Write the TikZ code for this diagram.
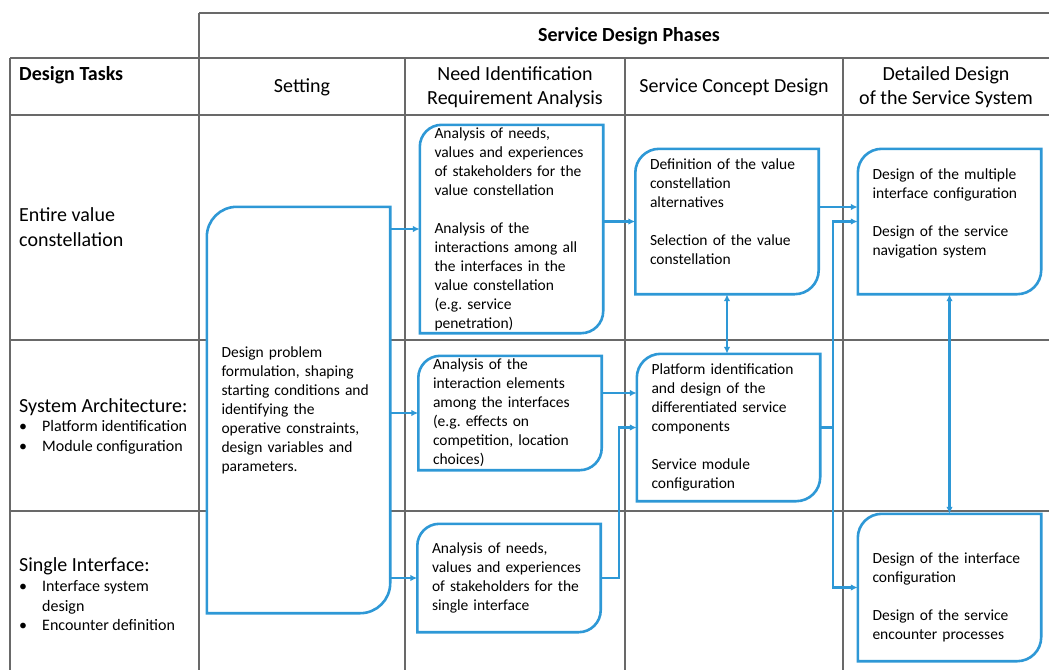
\documentclass[tikz,border=0pt]{standalone}
\usepackage{fontspec}
\setmainfont{Carlito}
\usetikzlibrary{arrows.meta}
\definecolor{phaseblue}{RGB}{46,152,214}
\definecolor{gridgray}{RGB}{105,105,105}
\newcommand{\boxfont}{\fontsize{15.5}{19}\selectfont\hyphenpenalty=10000}
\newcommand{\headfont}{\fontsize{20}{24}\selectfont}
\newcommand{\itemmark}{\makebox[23pt][l]{\textbullet}}

\begin{document}
\begin{tikzpicture}[x=1pt,y=-1pt,
  >={Latex[length=7pt,width=6.5pt]},
  grid/.style={draw=gridgray,line width=1.2pt},
  head/.style={font=\headfont,align=center,inner sep=0pt},
  task/.style={font=\fontsize{20}{25}\selectfont,align=left,anchor=west,inner sep=0pt},
  tasklist/.style={font=\fontsize{16}{19.5}\selectfont,align=left,anchor=west,inner sep=0pt},
  phase/.style={minimum width=183pt,minimum height=#1,text width=154pt,inner xsep=14.5pt,inner ysep=0pt,align=left,fill=white,font=\boxfont},
  outline/.style={draw=phaseblue,line width=2.6pt},
  flow/.style={draw=phaseblue,line width=2.2pt}]
 \useasboundingbox (0,0) rectangle (1049,670);
 % table
 \draw[grid] (199,13) -- (1049,13);
 \foreach \y in {58,115,340,511}
 	\draw[grid] (10,\y) -- (1049,\y);
 \draw[grid] (199,13) -- (199,670);
 \foreach \x in {10,405,625,843}
 	\draw[grid] (\x,58) -- (\x,670);
 % headings
 \node[font=\bfseries\headfont,inner sep=0pt] (phases) at (629,36) {Service Design Phases};
 \node[task,font=\bfseries\headfont] (tasks) at (19,75) {Design Tasks};
 \node[head] (colset) at (302,87) {Setting};
 \node[head] (colneed) at (515,87) {Need Identification\\Requirement Analysis};
 \node[head] (colconcept) at (734,87) {Service Concept Design};
 \node[head] (coldetail) at (946,87) {Detailed Design\\of the Service System};
 % design tasks
 \node[task] (rowentire) at (19,227.5) {Entire value\\constellation};
 \node[task] (rowarch) at (19,407) {System Architecture:};
 \node[tasklist] (rowarchlist) at (19,437.5) {\itemmark Platform identification\\\itemmark Module configuration};
 \node[task] (rowsingle) at (19,566) {Single Interface:};
 \node[tasklist] (rowsinglelist) at (19,606) {\itemmark Interface system\\\hspace*{23pt}design\\\itemmark Encounter definition};
 % phase boxes
 \node[phase=406pt] (setting) at (298.5,410) {Design problem\\formulation, shaping\\starting conditions and\\identifying the\\operative constraints,\\design variables and\\parameters.};
 \node[phase=208pt] (need1) at (511.5,229) {Analysis of needs,\\values and experiences\\of stakeholders for the\\value constellation\\[19pt]Analysis of the\\interactions among all\\the interfaces in the\\value constellation\\(e.g.\ service\\penetration)};
 \node[phase=114pt] (need2) at (510,413) {Analysis of the\\interaction elements\\among the interfaces\\(e.g.\ effects on\\competition, location\\choices)};
 \node[phase=108pt] (need3) at (509,578) {Analysis of needs,\\values and experiences\\of stakeholders for the\\single interface};
 \node[phase=145pt] (concept1) at (727,221.5) {Definition of the value\\constellation\\alternatives\\[19pt]Selection of the value\\constellation\\\mbox{}};
 \node[phase=147pt] (concept2) at (728.5,427.5) {Platform identification\\and design of the\\differentiated service\\components\\[19pt]Service module\\configuration};
 \node[phase=145pt] (detail1) at (949.5,221.5) {Design of the multiple\\interface configuration\\[19pt]Design of the service\\navigation system\\\mbox{}};
 \node[phase=147pt] (detail3) at (949.5,587.5) {\mbox{}\\[12pt]Design of the interface\\configuration\\[19pt]Design of the service\\encounter processes};
 \foreach \b/\r in {setting/30pt,need1/22pt,need2/22pt,need3/22pt,concept1/24pt,concept2/24pt,detail1/24pt,detail3/24pt}
 	\draw[outline] (\b.north east) [rounded corners=\r] -- (\b.south east) [sharp corners] -- (\b.south west) [rounded corners=\r] -- (\b.north west) [sharp corners] -- cycle;
 % connectors
 \draw[flow,->] (setting.east |- need1.west) -- (need1.west);
 \draw[flow,->] (setting.east |- need2.west) -- (need2.west);
 \draw[flow,->] (setting.east |- need3.west) -- (need3.west);
 \draw[flow,->] (need1.east |- concept1.west) -- (concept1.west);
 \draw[flow,->] ([yshift=20pt]need2.east) coordinate (n2out) -- (n2out -| concept2.west);
 \draw[flow,->] (need3.east) -- ++(18,0) |- (concept2.west);
 \draw[flow,<->] (concept1.south) -- (concept1.south |- concept2.north);
 \draw[flow,->] ([yshift=14.5pt]concept1.east) coordinate (c1out) -- (c1out -| detail1.west);
 \draw[flow] (concept2.east) -- ++(13,0) coordinate (fork);
 \draw[flow,->] (fork) |- (detail1.west);
 \draw[flow,->] (fork) |- (detail3.west);
 \draw[flow,<->] (detail1.south) -- (detail3.north);
\end{tikzpicture}
\end{document}
